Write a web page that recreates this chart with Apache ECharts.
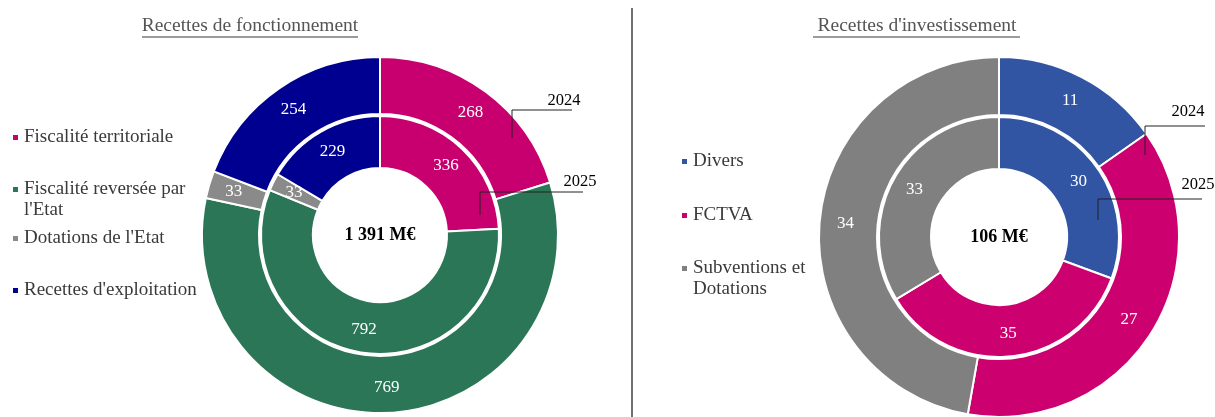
<!DOCTYPE html>
<html>
<head>
<meta charset="utf-8">
<script src="https://cdn.jsdelivr.net/npm/echarts@6/dist/echarts.min.js"></script>
<style>
  html, body { margin: 0; padding: 0; background: #fff; }
  #main { width: 1215px; height: 417px; }
</style>
</head>
<body>
<div id="main"></div>
<script>
// Recettes de fonctionnement (M€)
var fonctCategories = ['Fiscalité territoriale', "Fiscalité reversée par l'Etat", "Dotations de l'Etat", "Recettes d'exploitation"];
var fonct2024 = [268, 769, 33, 254];
var fonct2025 = [336, 792, 33, 229];
var fonctColors = ['#C8006F', '#2B7657', '#8A8A8A', '#000090'];
var fonctTotal = '1 391 M€';

// Recettes d'investissement (M€)
var investCategories = ['Divers', 'FCTVA', 'Subventions et Dotations'];
var invest2024 = [11, 27, 34];
var invest2025 = [30, 35, 33];
var investColors = ['#3155A3', '#CC006E', '#808080'];
var investTotal = '106 M€';

var serif = '"Liberation Serif", "DejaVu Serif", serif';

function pieData(names, values, colors) {
    return names.map(function (n, i) {
        return { name: n, value: values[i], itemStyle: { color: colors[i] } };
    });
}

function ring(name, center, radius, names, values, colors) {
    return {
        name: name,
        type: 'pie',
        center: center,
        radius: radius,
        startAngle: 90,
        avoidLabelOverlap: false,
        silent: true,
        itemStyle: { borderColor: '#fff', borderWidth: 2 },
        label: {
            show: true,
            position: 'inside',
            formatter: '{c}',
            color: '#fff',
            fontFamily: serif,
            fontSize: 17
        },
        labelLine: { show: false },
        data: pieData(names, values, colors)
    };
}

// une légende par entrée, pour placer chaque ligne comme sur l'image
// (les libellés sur deux lignes reçoivent une ligne vide en tête pour que
// le carré reste en face de la première ligne)
function legendItem(name, left, top) {
    return {
        data: [name],
        left: left,
        top: top,
        padding: 0,
        icon: 'rect',
        itemWidth: 7,
        itemHeight: 7,
        selectedMode: false,
        formatter: function (n) {
            if (n.indexOf(' par ') > 0) return '\u00a0\n' + n.replace(' par ', ' par\n');
            if (n.indexOf(' et ') > 0) return '\u00a0\n' + n.replace(' et ', ' et\n');
            return n;
        },
        textStyle: { fontFamily: serif, fontSize: 19, color: '#3a3a3a', lineHeight: 21 }
    };
}

var chartDom = document.getElementById('main');
var myChart = echarts.init(chartDom);
var option;

var leftCenter = [380, 235];
var rightCenter = [999, 237];

option = {
    animation: false,
    backgroundColor: '#fff',
    legend: [
        legendItem(fonctCategories[0], 11, 127),
        legendItem(fonctCategories[1], 11, 158),
        legendItem(fonctCategories[2], 11, 228),
        legendItem(fonctCategories[3], 11, 280),
        legendItem(investCategories[0], 680, 151),
        legendItem(investCategories[1], 680, 205),
        legendItem(investCategories[2], 680, 237)
    ],
    series: [
        ring('2024', leftCenter, [121, 178], fonctCategories, fonct2024, fonctColors),
        ring('2025', leftCenter, [67, 119], fonctCategories, fonct2025, fonctColors),
        ring('2024', rightCenter, [122, 180], investCategories, invest2024, investColors),
        ring('2025', rightCenter, [68, 120], investCategories, invest2025, investColors)
    ],
    graphic: {
        elements: [
            // titres soulignés
            { type: 'text', z: 100, x: 250, y: 26, style: { text: 'Recettes de fonctionnement', fill: '#555', font: '19.5px ' + serif, align: 'center', verticalAlign: 'middle' } },
            { type: 'line', z: 100, shape: { x1: 142, y1: 37, x2: 358, y2: 37 }, style: { stroke: '#7a7a7a', lineWidth: 1.5 } },
            { type: 'text', z: 100, x: 917, y: 26, style: { text: "Recettes d'investissement", fill: '#555', font: '19.5px ' + serif, align: 'center', verticalAlign: 'middle' } },
            { type: 'line', z: 100, shape: { x1: 813, y1: 37, x2: 1020, y2: 37 }, style: { stroke: '#7a7a7a', lineWidth: 1.5 } },
            // séparateur
            { type: 'line', z: 100, shape: { x1: 632, y1: 8, x2: 632, y2: 417 }, style: { stroke: '#404040', lineWidth: 1.5 } },
            // totaux au centre
            { type: 'text', z: 100, x: leftCenter[0], y: leftCenter[1], style: { text: fonctTotal, fill: '#000', font: 'bold 18px ' + serif, align: 'center', verticalAlign: 'middle' } },
            { type: 'text', z: 100, x: rightCenter[0], y: rightCenter[1], style: { text: investTotal, fill: '#000', font: 'bold 18px ' + serif, align: 'center', verticalAlign: 'middle' } },
            // repères des anneaux
            { type: 'polyline', z: 100, shape: { points: [[512, 138], [512, 110], [572, 110]] }, style: { stroke: '#222', lineWidth: 1, fill: null } },
            { type: 'text', z: 100, x: 564, y: 101, style: { text: '2024', fill: '#000', font: '16.5px ' + serif, align: 'center', verticalAlign: 'middle' } },
            { type: 'polyline', z: 100, shape: { points: [[480, 215], [480, 192], [583, 192]] }, style: { stroke: '#222', lineWidth: 1, fill: null } },
            { type: 'text', z: 100, x: 580, y: 182, style: { text: '2025', fill: '#000', font: '16.5px ' + serif, align: 'center', verticalAlign: 'middle' } },
            { type: 'polyline', z: 100, shape: { points: [[1145, 155], [1145, 126], [1205, 126]] }, style: { stroke: '#222', lineWidth: 1, fill: null } },
            { type: 'text', z: 100, x: 1188, y: 112, style: { text: '2024', fill: '#000', font: '16.5px ' + serif, align: 'center', verticalAlign: 'middle' } },
            { type: 'polyline', z: 100, shape: { points: [[1098, 220], [1098, 199], [1202, 199]] }, style: { stroke: '#222', lineWidth: 1, fill: null } },
            { type: 'text', z: 100, x: 1198, y: 185, style: { text: '2025', fill: '#000', font: '16.5px ' + serif, align: 'center', verticalAlign: 'middle' } }
        ]
    }
};

option && myChart.setOption(option);
</script>
</body>
</html>
